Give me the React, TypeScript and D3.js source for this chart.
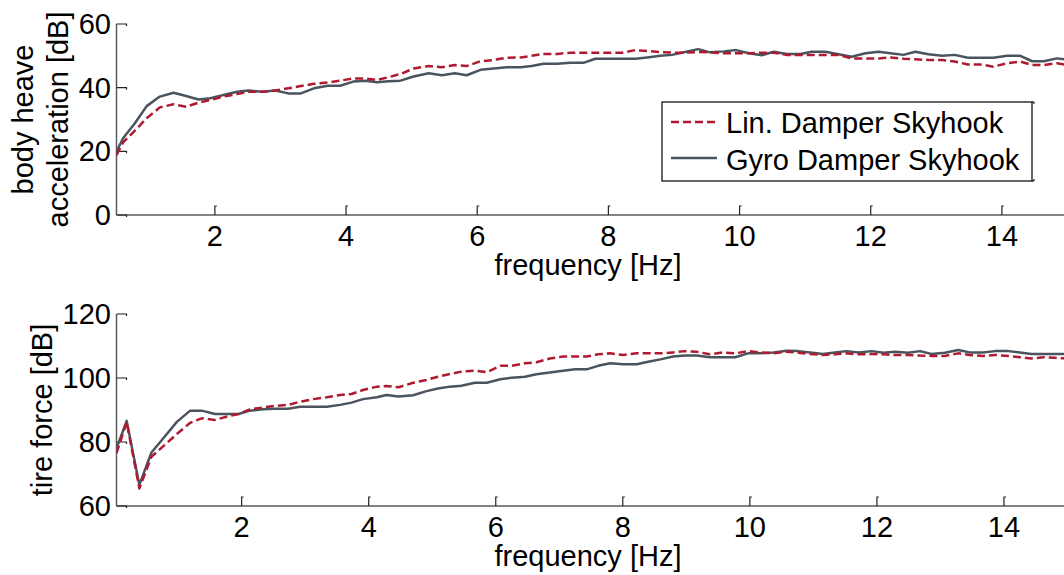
import React from "react";
import * as d3 from "d3";

// ---------- data ----------
const topFreq = [0.5, 0.6, 0.78, 0.96, 1.16, 1.37, 1.56, 1.75, 1.93, 2.13, 2.34, 2.51, 2.72, 2.92, 3.12, 3.31, 3.51, 3.72, 3.91, 4.11, 4.29, 4.47, 4.65, 4.83, 5.03, 5.26, 5.46, 5.66, 5.84, 6.05, 6.25, 6.45, 6.66, 6.83, 7.01, 7.22, 7.42, 7.62, 7.8, 8.0, 8.21, 8.41, 8.59, 8.79, 8.97, 9.17, 9.37, 9.55, 9.76, 9.95, 10.14, 10.34, 10.52, 10.72, 10.93, 11.1, 11.31, 11.51, 11.71, 11.92, 12.12, 12.3, 12.5, 12.68, 12.88, 13.09, 13.28, 13.48, 13.67, 13.87, 14.08, 14.28, 14.46, 14.64, 14.84, 15.0];
const topGyro = [19.9, 24.1, 28.8, 34.2, 37.2, 38.4, 37.4, 36.3, 36.7, 37.7, 38.7, 39.1, 38.7, 39.1, 38.2, 38.2, 39.8, 40.6, 40.6, 41.9, 42.2, 41.7, 42.0, 42.2, 43.5, 44.5, 43.9, 44.5, 43.9, 45.6, 46.0, 46.4, 46.4, 46.8, 47.5, 47.5, 47.8, 47.8, 49.1, 49.1, 49.1, 49.1, 49.5, 50.0, 50.3, 51.2, 52.1, 51.1, 51.4, 51.8, 50.8, 50.2, 51.3, 50.6, 50.6, 51.3, 51.3, 50.5, 49.7, 50.8, 51.3, 50.8, 50.3, 51.3, 50.5, 50.0, 50.3, 49.4, 49.4, 49.4, 50.0, 50.0, 48.3, 48.3, 49.2, 48.8];
const topLin = [18.8, 22.8, 26.5, 30.4, 33.8, 34.8, 34.0, 35.3, 36.1, 37.2, 38.0, 38.7, 38.7, 39.1, 39.8, 40.5, 41.2, 41.6, 42.2, 42.9, 42.9, 42.4, 43.3, 44.3, 46.0, 46.8, 46.4, 47.1, 46.8, 48.3, 48.7, 49.4, 49.5, 50.0, 50.6, 50.6, 51.0, 51.0, 51.0, 51.0, 51.0, 51.8, 51.5, 51.2, 51.0, 51.0, 51.2, 51.1, 50.8, 50.8, 50.8, 51.0, 51.0, 50.3, 50.3, 50.3, 50.3, 50.3, 49.2, 49.2, 49.2, 49.5, 49.1, 48.9, 48.7, 48.7, 48.2, 47.3, 47.3, 46.6, 47.7, 48.2, 47.1, 47.1, 47.7, 47.1];

const botFreq = [0.03, 0.19, 0.39, 0.58, 0.79, 0.98, 1.19, 1.37, 1.58, 1.76, 1.95, 2.13, 2.34, 2.52, 2.73, 2.92, 3.13, 3.34, 3.55, 3.73, 3.91, 4.13, 4.28, 4.47, 4.7, 4.91, 5.09, 5.28, 5.46, 5.67, 5.86, 6.07, 6.25, 6.46, 6.64, 6.85, 7.06, 7.25, 7.43, 7.61, 7.8, 8.01, 8.22, 8.4, 8.61, 8.79, 8.98, 9.16, 9.37, 9.58, 9.77, 9.97, 10.16, 10.37, 10.58, 10.76, 10.95, 11.15, 11.34, 11.52, 11.71, 11.92, 12.1, 12.28, 12.49, 12.68, 12.86, 13.07, 13.28, 13.46, 13.67, 13.86, 14.07, 14.25, 14.43, 14.62, 14.8, 15.0];
const botGyro = [78.0, 86.6, 66.6, 76.7, 81.7, 86.3, 89.8, 89.8, 88.75, 88.75, 88.75, 89.8, 90.2, 90.4, 90.4, 91.0, 91.0, 91.0, 91.6, 92.3, 93.4, 94.0, 94.7, 94.2, 94.6, 95.9, 96.7, 97.3, 97.6, 98.5, 98.5, 99.6, 100.1, 100.4, 101.2, 101.7, 102.3, 102.7, 102.7, 103.8, 104.6, 104.3, 104.3, 105.1, 105.9, 106.7, 107.0, 107.0, 106.5, 106.5, 106.5, 107.7, 107.7, 108.0, 108.5, 108.4, 108.0, 107.5, 108.0, 108.4, 108.0, 108.4, 107.9, 108.2, 107.9, 108.4, 107.5, 107.9, 108.75, 108.0, 108.0, 108.4, 108.4, 108.0, 107.5, 107.5, 107.5, 107.5];
const botLin = [76.5, 86.2, 65.5, 75.4, 79.1, 82.5, 86.0, 87.4, 86.9, 87.9, 88.75, 90.2, 90.8, 91.25, 91.6, 92.6, 93.4, 94.0, 94.7, 95.0, 96.25, 97.3, 97.5, 97.1, 98.5, 99.4, 100.4, 101.25, 102.0, 102.3, 101.8, 103.8, 103.8, 104.6, 104.9, 106.1, 106.7, 106.7, 106.7, 107.4, 107.7, 107.2, 107.7, 107.7, 107.7, 108.0, 108.4, 108.2, 107.4, 108.0, 107.7, 108.4, 108.0, 107.7, 108.2, 107.9, 107.5, 107.2, 107.4, 107.7, 107.4, 107.5, 107.4, 107.2, 107.2, 107.0, 106.9, 106.9, 107.7, 107.2, 106.9, 107.2, 106.9, 106.5, 106.1, 106.5, 106.3, 106.1];

const xTicks = [2, 4, 6, 8, 10, 12, 14];
const topYTicks = [0, 20, 40, 60];
const botYTicks = [60, 80, 100, 120];
const seriesNames = ["Lin. Damper Skyhook", "Gyro Damper Skyhook"];
const xLabel = "frequency [Hz]";
const topYLabel = ["body heave", "acceleration [dB]"];
const botYLabel = "tire force [dB]";

// ---------- style ----------
const W = 1064;
const H = 575;
const FONT = "'Liberation Sans', Arial, Helvetica, sans-serif";
const FS = 29;
const RED = "#b01a30";
const GRAY = "#4a545e";
const AXIS = "#5a5a5a";
const LEFT = 116.5;
const RIGHT = 1067.5;

type PanelProps = {
  id: string;
  freq: number[];
  lin: number[];
  gyro: number[];
  xDomain: [number, number];
  yDomain: [number, number];
  yTop: number;
  yBottom: number;
  yTicks: number[];
};

function Panel(p: PanelProps) {
  const x = d3.scaleLinear().domain(p.xDomain).range([LEFT, RIGHT]);
  const y = d3.scaleLinear().domain(p.yDomain).range([p.yBottom, p.yTop]);
  const line = d3
    .line<number>()
    .x((_, i) => x(p.freq[i]))
    .y((d) => y(d));
  return (
    <g>
      <defs>
        <clipPath id={p.id}>
          <rect x={LEFT} y={p.yTop - 5} width={RIGHT - LEFT} height={p.yBottom - p.yTop + 5} />
        </clipPath>
      </defs>
      {/* axes */}
      <line x1={LEFT} x2={RIGHT} y1={p.yBottom} y2={p.yBottom} stroke={AXIS} strokeWidth={1.5} />
      <line x1={LEFT} x2={LEFT} y1={p.yTop} y2={p.yBottom} stroke={AXIS} strokeWidth={1.5} />
      {xTicks.map((t) => (
        <g key={"xt" + t}>
          <path
            d={`M${x(t)},${p.yBottom} V${p.yBottom - 9} h2`}
            fill="none"
            stroke="#222"
            strokeWidth={1.2}
          />
          <text
            x={x(t)}
            y={p.yBottom + 31}
            textAnchor="middle"
            fontFamily={FONT}
            fontSize={FS}
            fill="#000"
          >
            {t}
          </text>
        </g>
      ))}
      {p.yTicks.map((t) => (
        <g key={"yt" + t}>
          <path
            d={`M${LEFT},${y(t)} H${LEFT + 10} v2`}
            fill="none"
            stroke="#222"
            strokeWidth={1.2}
          />
          <text
            x={111}
            y={y(t) + 10}
            textAnchor="end"
            fontFamily={FONT}
            fontSize={FS}
            fill="#000"
          >
            {t}
          </text>
        </g>
      ))}
      <text
        x={(LEFT + RIGHT) / 2 - 4}
        y={p.yBottom + 60}
        textAnchor="middle"
        fontFamily={FONT}
        fontSize={FS}
        fill="#000"
      >
        {xLabel}
      </text>
      <g clipPath={`url(#${p.id})`}>
        <path d={line(p.gyro) || ""} fill="none" stroke={GRAY} strokeWidth={2.5} strokeLinejoin="round" />
        <path
          d={line(p.lin) || ""}
          fill="none"
          stroke={RED}
          strokeWidth={2.5}
          strokeDasharray="8,4"
          strokeLinejoin="round"
        />
      </g>
    </g>
  );
}

export default function App() {
  const topCenter = (24 + 215) / 2;
  const botCenter = (314 + 506) / 2;
  return (
    <svg
      width={W}
      height={H}
      viewBox={`0 0 ${W} ${H}`}
      style={{ position: "absolute", left: 0, top: 0, background: "#fff" }}
    >
      <rect x={0} y={0} width={W} height={H} fill="#fff" />
      <Panel
        id="clipTop"
        freq={topFreq}
        lin={topLin}
        gyro={topGyro}
        xDomain={[0.5, 15]}
        yDomain={[0, 60]}
        yTop={24}
        yBottom={215}
        yTicks={topYTicks}
      />
      <Panel
        id="clipBot"
        freq={botFreq}
        lin={botLin}
        gyro={botGyro}
        xDomain={[0.03, 15]}
        yDomain={[60, 120]}
        yTop={314}
        yBottom={506}
        yTicks={botYTicks}
      />
      {/* y labels */}
      <text
        transform={`translate(33,${topCenter}) rotate(-90)`}
        textAnchor="middle"
        fontFamily={FONT}
        fontSize={FS}
        fill="#000"
      >
        {topYLabel[0]}
      </text>
      <text
        transform={`translate(68,${topCenter}) rotate(-90)`}
        textAnchor="middle"
        fontFamily={FONT}
        fontSize={FS}
        fill="#000"
      >
        {topYLabel[1]}
      </text>
      <text
        transform={`translate(52,${botCenter}) rotate(-90)`}
        textAnchor="middle"
        fontFamily={FONT}
        fontSize={FS}
        fill="#000"
      >
        {botYLabel}
      </text>
      {/* legend */}
      <g>
        <rect x={662} y={102} width={370} height={79} fill="#fff" stroke="#000" strokeWidth={1.2} />
        <path d="M1032,102 h2 v2 M1032,181 h2 v-2" fill="none" stroke="#000" strokeWidth={1} />
        <line x1={671} x2={717} y1={122} y2={122} stroke={RED} strokeWidth={2.5} strokeDasharray="8,4" />
        <line x1={671} x2={717} y1={158} y2={158} stroke={GRAY} strokeWidth={2.5} />
        <text x={726} y={133} fontFamily={FONT} fontSize={FS} fill="#000">
          {seriesNames[0]}
        </text>
        <text x={726} y={170} fontFamily={FONT} fontSize={FS} fill="#000">
          {seriesNames[1]}
        </text>
      </g>
    </svg>
  );
}
